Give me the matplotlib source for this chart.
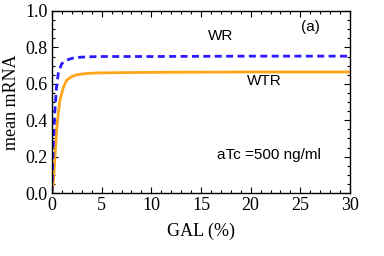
import numpy as np
import matplotlib.pyplot as plt
from matplotlib.ticker import MultipleLocator

# values
gal_wr = [0.0, 0.05, 0.13, 0.3, 0.45, 0.64, 0.97, 1.48, 2.0, 2.5, 3.5, 5.0, 10.0, 20.0, 30.0]
wr = [0.0, 0.12, 0.27, 0.46, 0.58, 0.66, 0.71, 0.73, 0.74, 0.745, 0.748, 0.75, 0.75, 0.752, 0.752]
gal_wtr = [0.0, 0.13, 0.3, 0.47, 0.64, 0.8, 1.14, 1.48, 2.0, 2.5, 3.5, 4.8, 10.0, 20.0, 30.0]
wtr = [0.0, 0.06, 0.2, 0.35, 0.44, 0.51, 0.58, 0.62, 0.64, 0.65, 0.657, 0.66, 0.663, 0.665, 0.665]

fig = plt.figure(figsize=(3.84, 2.56), dpi=100)
ax = fig.add_axes([52/384, 1 - 193/256, 298/384, 182/256])

ax.plot(gal_wtr, wtr, color='#ffa51a', lw=2.0)
ax.plot(gal_wr, wr, color='#2a1aff', lw=2.0, ls=(0, (2.5, 1.6)))

ax.set_xlim(0, 30)
ax.set_ylim(0, 1.0)
ax.xaxis.set_major_locator(MultipleLocator(5))
ax.xaxis.set_minor_locator(MultipleLocator(1))
ax.yaxis.set_major_locator(MultipleLocator(0.2))
ax.yaxis.set_minor_locator(MultipleLocator(0.05))
ax.yaxis.set_major_formatter(plt.FuncFormatter(lambda v, p: f'{v:.1f}'))
ax.tick_params(which='both', direction='in', top=True, right=True, width=0.8)
ax.tick_params(which='major', length=4, labelsize=13, pad=3)
ax.tick_params(which='minor', length=2)
for lab in ax.get_xticklabels() + ax.get_yticklabels():
    lab.set_family('Liberation Serif')
for s in ax.spines.values():
    s.set_linewidth(1.0)

ax.set_xlabel('GAL (%)', family='Liberation Serif', fontsize=13, labelpad=6)
ax.set_ylabel('mean mRNA', family='Liberation Serif', fontsize=13, labelpad=4)

ax.text(17.0, 0.86, 'WR', family='Liberation Sans', fontsize=11, ha='center', va='center')
ax.text(21.4, 0.615, 'WTR', family='Liberation Sans', fontsize=11, ha='center', va='center')
ax.text(26.0, 0.91, '(a)', family='Liberation Sans', fontsize=11, ha='center', va='center')
ax.text(21.8, 0.21, 'aTc =500 ng/ml', family='Liberation Sans', fontsize=11, ha='center', va='center')

fig.savefig('out.png', dpi=100)
